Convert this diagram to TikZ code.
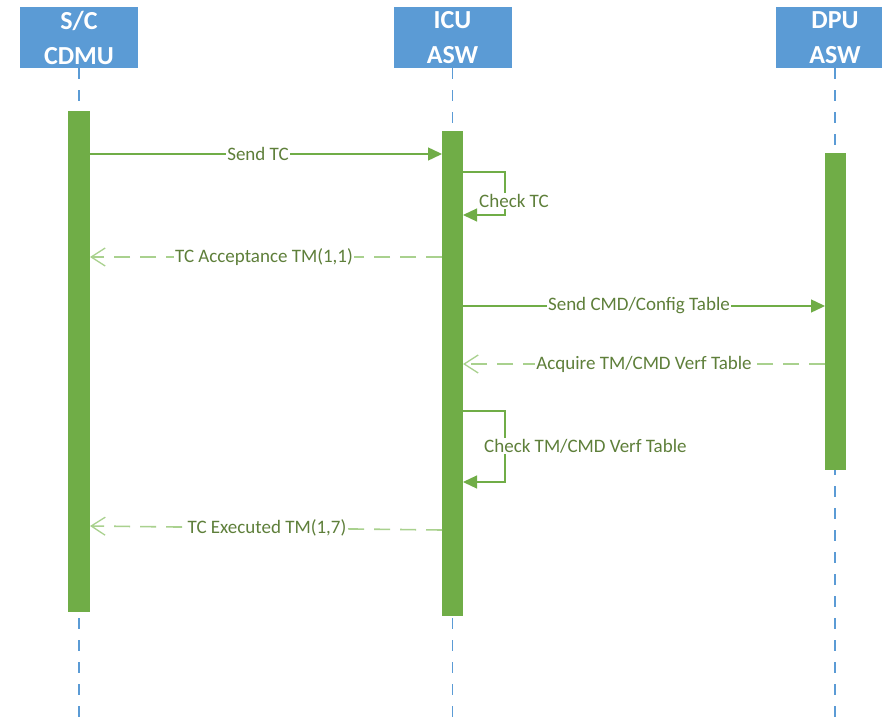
\documentclass[tikz,border=0pt]{standalone}
\usepackage{fontspec}
\setmainfont{Carlito}
\usetikzlibrary{arrows.meta}
\definecolor{hdrblue}{HTML}{5B9BD5}
\definecolor{actgreen}{HTML}{70AD47}
\definecolor{dashgreen}{HTML}{A9D18E}
\definecolor{lbltext}{HTML}{5E7F3A}
\begin{document}
\begin{tikzpicture}[x=1pt,y=-1pt,
  header/.style={fill=hdrblue, minimum width=118pt, minimum height=61pt, inner sep=0pt,
    text=white, font=\fontsize{26}{35}\selectfont\bfseries, align=center},
  lifeline/.style={draw=hdrblue, line width=1.2pt, dash pattern=on 11pt off 11pt},
  actbar/.style={fill=actgreen, draw=none, inner sep=0pt, anchor=north},
  msg/.style={draw=actgreen, line width=1.4pt, -{Triangle[length=14pt,width=13pt]}},
  selfmsg/.style={draw=actgreen, line width=1.2pt, -{Triangle[length=14pt,width=13pt]}},
  reply/.style={draw=dashgreen, line width=1.6pt, dash pattern=on 16pt off 10pt,
    -{Straight Barb[length=14pt,width=18pt,line width=1.3pt]}},
  lbl/.style={fill=white, inner sep=1pt, text=lbltext, font=\fontsize{19}{22}\selectfont}
]
\useasboundingbox (0,0) rectangle (882,719);
\fill[white] (0,0) rectangle (882,719);

% headers
\node[header] (hA) at (79,37.5) {S/C\\CDMU};
\node[header] (hB) at (452.5,37.5) {ICU\\ASW};
\node[header] (hC) at (835,37.5) {DPU\\ASW};

% lifeline ends
\coordinate (eA) at (79,719);
\coordinate (eB) at (452.5,719);
\coordinate (eC) at (835,719);
\draw[lifeline] (hA.south) -- (eA);
\draw[lifeline] (hB.south) -- (eB);
\draw[lifeline] (hC.south) -- (eC);

% activation bars
\node[actbar, minimum width=22pt, minimum height=501pt] (barA) at (79,111) {};
\node[actbar, minimum width=21pt, minimum height=485pt] (barB) at (452.5,131) {};
\node[actbar, minimum width=21pt, minimum height=317pt] (barC) at (835.5,153) {};

% message anchor points
\coordinate (m1s) at (90,154);   \coordinate (m1e) at (442,154);
\coordinate (s1s) at (463,172);  \coordinate (s1e) at (463,215);
\coordinate (m2s) at (442,257);  \coordinate (m2e) at (90,257);
\coordinate (m3s) at (463,306);  \coordinate (m3e) at (825,306);
\coordinate (m4s) at (825,364);  \coordinate (m4e) at (463,364);
\coordinate (s2s) at (463,411);  \coordinate (s2e) at (463,482);
\coordinate (m5s) at (442,530);  \coordinate (m5e) at (90,526);

% messages
\draw[msg] (m1s) -- (m1e);
\node[lbl] (l1) at (258,154) {Send TC};

\draw[selfmsg] (s1s) -- ++(42,0) |- (s1e);
\node[lbl, anchor=west] (l2) at (478,201) {Check TC};

\draw[reply] (m2s) -- (m2e);
\node[lbl] (l3) at (264,257) {TC Acceptance TM(1,1)};

\draw[msg] (m3s) -- (m3e);
\node[lbl] (l4) at (639,306) {Send CMD/Config Table};

\draw[reply] (m4s) -- (m4e);
\node[lbl] (l5) at (644,364) {Acquire TM/CMD Verf Table};

\draw[selfmsg] (s2s) -- ++(42,0) |- (s2e);
\node[lbl, anchor=west] (l6) at (483,446) {Check TM/CMD Verf Table};

\draw[reply] (m5s) -- (m5e);
\node[lbl] (l7) at (267,528) {TC Executed TM(1,7)};
\end{tikzpicture}
\end{document}
